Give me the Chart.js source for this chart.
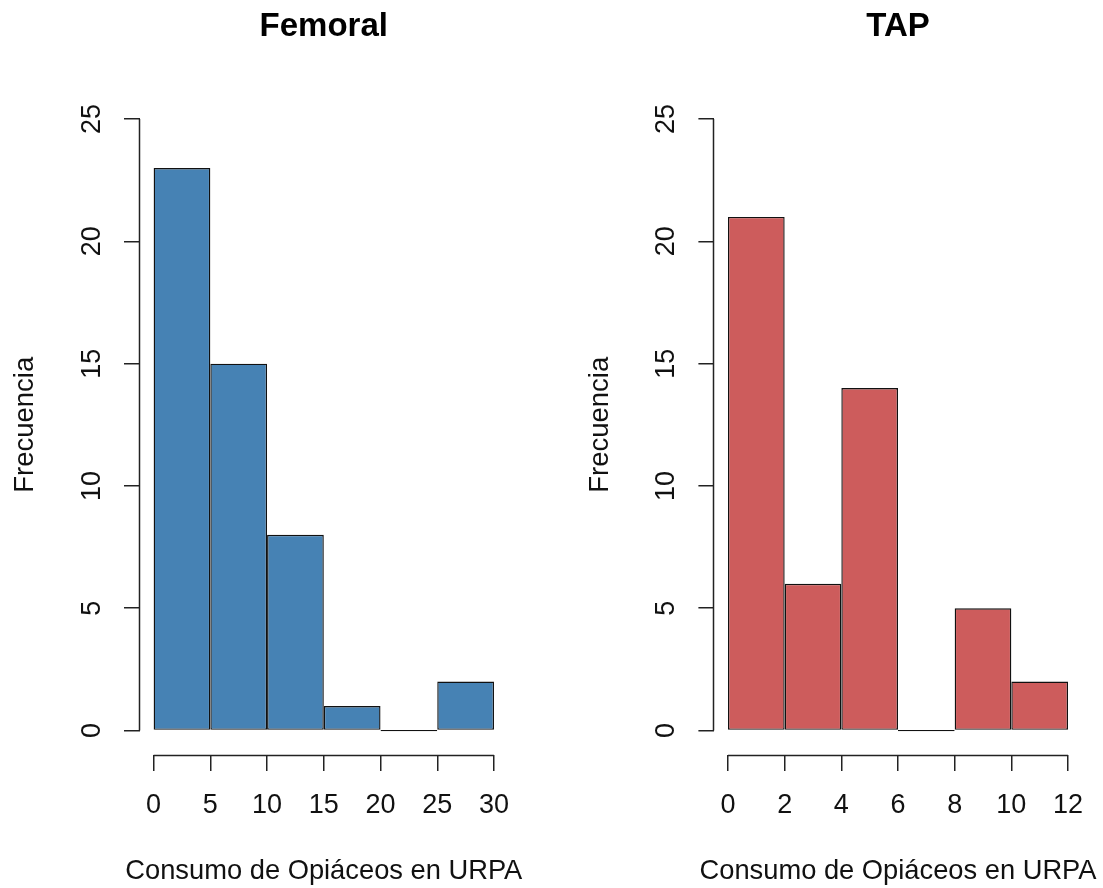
<!DOCTYPE html>
<html>
<head>
<meta charset="utf-8">
<title>Consumo de Opiáceos en URPA</title>
<script src="https://cdn.jsdelivr.net/npm/chart.js@4.4.0/dist/chart.umd.min.js"></script>
<style>
  body { margin: 0; background: #fff; }
  #wrap { position: relative; width: 1103px; height: 888px; }
  canvas { position: absolute; top: 0; }
</style>
</head>
<body>
<div id="wrap">
  <canvas id="femoral" width="551" height="888" style="left:0"></canvas>
  <canvas id="tap" width="552" height="888" style="left:551px"></canvas>
</div>
<script>
// histogram breaks and counts
const femoralBreaks = [0, 5, 10, 15, 20, 25, 30];
const femoralCounts = [23, 15, 8, 1, 0, 2];
const tapBreaks = [0, 2, 4, 6, 8, 10, 12];
const tapCounts = [21, 6, 14, 0, 5, 2];

// tick labels
const yTicks = [0, 5, 10, 15, 20, 25];
const femoralTicks = [0, 5, 10, 15, 20, 25, 30];
const tapTicks = [0, 2, 4, 6, 8, 10, 12];

const xLabel = "Consumo de Opiáceos en URPA";
const yLabel = "Frecuencia";

const FONT = "'Liberation Sans', Arial, sans-serif";
Chart.defaults.font.family = FONT;
Chart.defaults.color = "#000";

// R style axes: line only between first and last tick,
// x label centred under the plot but allowed to be wider than it
const rAxes = {
  id: "rAxes",
  afterDraw(chart) {
    const { ctx, chartArea } = chart;
    const x = chart.scales.x, y = chart.scales.y;
    ctx.save();
    ctx.strokeStyle = "#222";
    ctx.lineWidth = 1.5;
    ctx.beginPath();
    const by = Math.round(chartArea.bottom) + 0.5;
    ctx.moveTo(x.getPixelForValue(x.ticks[0].value), by);
    ctx.lineTo(x.getPixelForValue(x.ticks[x.ticks.length - 1].value), by);
    const lx = Math.round(chartArea.left) - 0.5;
    ctx.moveTo(lx, y.getPixelForValue(y.ticks[0].value));
    ctx.lineTo(lx, y.getPixelForValue(y.ticks[y.ticks.length - 1].value));
    ctx.stroke();

    ctx.fillStyle = "#111";
    ctx.font = "27.3px " + FONT;
    ctx.textAlign = "center";
    ctx.textBaseline = "middle";
    ctx.fillText(xLabel, (chartArea.left + chartArea.right) / 2, x.bottom - 16.4);
    ctx.restore();
  }
};

function makeHist(id, title, breaks, counts, xTicks, color, plotLeft, padRight) {
  const lo = breaks[0], hi = breaks[breaks.length - 1];
  const ext = (hi - lo) * 0.04;
  const points = counts.map((c, i) => ({ x: (breaks[i] + breaks[i + 1]) / 2, y: c }));

  new Chart(document.getElementById(id), {
    type: "bar",
    data: {
      datasets: [{
        data: points,
        backgroundColor: color,
        borderColor: "#111",
        borderWidth: 1.4,
        borderSkipped: false,
        inflateAmount: 0,
        minBarLength: 1.2,
        barPercentage: 1,
        categoryPercentage: 1
      }]
    },
    options: {
      responsive: false,
      animation: false,
      events: [],
      layout: { padding: { left: 0, right: padRight, top: 0, bottom: 0 } },
      plugins: {
        legend: { display: false },
        tooltip: { enabled: false },
        title: {
          display: true,
          text: title,
          fullSize: false,
          color: "#000",
          font: { size: 33, weight: "bold", lineHeight: 1.2 },
          padding: { top: 7.3, bottom: 47.7 }
        }
      },
      scales: {
        x: {
          type: "linear",
          min: lo - ext,
          max: hi + ext,
          offset: false,
          afterBuildTicks(s) { s.ticks = xTicks.map(v => ({ value: v })); },
          afterFit(s) { s.height = 133; s.paddingLeft = 0; s.paddingRight = 0; },
          border: { display: false },
          grid: { offset: false, drawOnChartArea: false, color: "#222", tickColor: "#222", tickLength: 16, lineWidth: 1.5 },
          ticks: { font: { size: 27 }, padding: 18.4, maxRotation: 0, autoSkip: false, color: "#111" }
        },
        y: {
          type: "linear",
          min: -1,
          max: 26,
          afterBuildTicks(s) { s.ticks = yTicks.map(v => ({ value: v })); },
          afterFit(s) { s.width = plotLeft; s.paddingTop = 0; s.paddingBottom = 0; },
          border: { display: false },
          grid: { drawOnChartArea: false, color: "#222", tickColor: "#222", tickLength: 16, lineWidth: 1.5 },
          ticks: { font: { size: 27 }, padding: 16.7, minRotation: 90, maxRotation: 90, crossAlign: "center", autoSkip: false, color: "#111" },
          title: {
            display: true,
            text: yLabel,
            color: "#111",
            font: { size: 27.5, lineHeight: 1.2 },
            padding: { top: plotLeft - 114.4 - 16.5, bottom: 0 }
          }
        }
      }
    },
    plugins: [rAxes]
  });
}

makeHist("femoral", "Femoral", femoralBreaks, femoralCounts, femoralTicks, "#4682B4", 140, 43.4);
makeHist("tap", "TAP", tapBreaks, tapCounts, tapTicks, "#CD5C5C", 163.4, 21.4);
</script>
</body>
</html>
